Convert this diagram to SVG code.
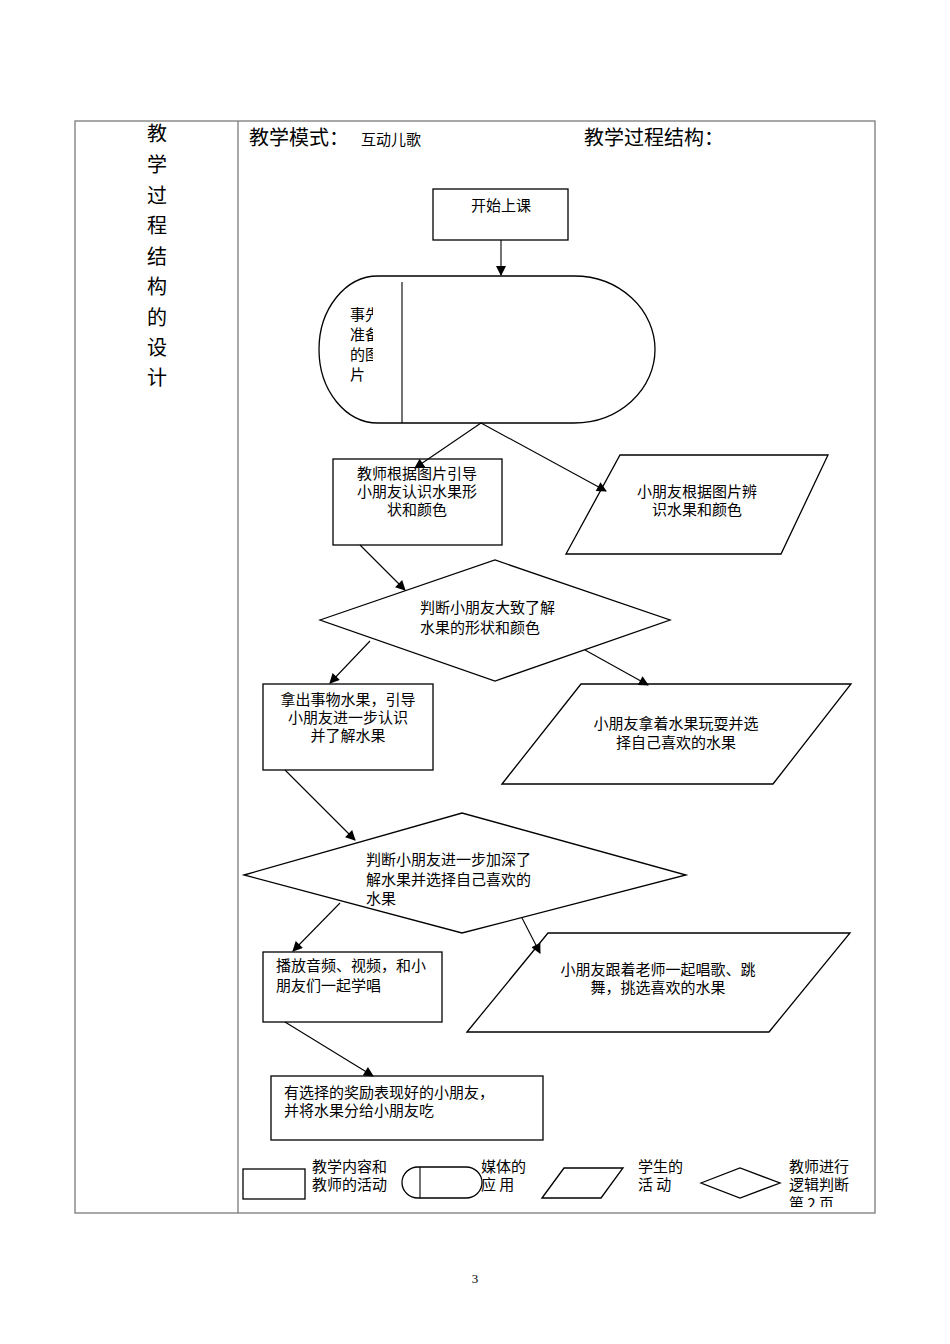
<svg xmlns="http://www.w3.org/2000/svg" width="950" height="1344" viewBox="0 0 950 1344">
<style>
.t{font-family:"Noto Sans CJK SC","Noto Sans CJK JP",sans-serif;font-size:15px;fill:#000}
.c{text-anchor:middle}
.h{font-size:20px}
.s{fill:#fff;stroke:#000;stroke-width:1.3}
.ln{fill:none;stroke:#000;stroke-width:1.1}
.tb{fill:none;stroke:#7a7a7a;stroke-width:1.3}
</style>
<defs>
<marker id="ah" viewBox="0 0 10 10" refX="9" refY="5" markerWidth="11" markerHeight="10" markerUnits="userSpaceOnUse" orient="auto"><path d="M0,0 L10,5 L0,10 z" fill="#000"/></marker>
<clipPath id="mclip"><rect x="340" y="295" width="33" height="100"/></clipPath>
<clipPath id="pclip"><rect x="780" y="1150" width="90" height="57"/></clipPath>
</defs>
<rect width="950" height="1344" fill="#fff"/>
<g id="table">
<rect class="tb" x="75" y="121" width="800" height="1092"/>
<line class="tb" x1="238" y1="121" x2="238" y2="1213"/>
</g>
<g id="sidetitle">
<text class="t h c" x="157" y="141">教</text>
<text class="t h c" x="157" y="172">学</text>
<text class="t h c" x="157" y="203">过</text>
<text class="t h c" x="157" y="233">程</text>
<text class="t h c" x="157" y="264">结</text>
<text class="t h c" x="157" y="294">构</text>
<text class="t h c" x="157" y="325">的</text>
<text class="t h c" x="157" y="355">设</text>
<text class="t h c" x="157" y="385">计</text>
</g>
<g id="header">
<text class="t h" x="249" y="145">教学模式：</text>
<text class="t" x="361" y="145">互动儿歌</text>
<text class="t h" x="584" y="145">教学过程结构：</text>
</g>
<g id="start">
<rect class="s" x="433" y="189" width="135" height="51"/>
<text class="t c" x="501" y="211">开始上课</text>
</g>
<g id="media">
<path class="s" d="M378,276 L574,276 A81,73.5 0 0 1 574,423 L378,423 A59,73.5 0 0 1 378,276 Z"/>
<line class="ln" x1="402" y1="282" x2="402" y2="423"/>
<g clip-path="url(#mclip)">
<text class="t" x="350" y="320" font-size="16">事先</text>
<text class="t" x="350" y="340" font-size="16">准备</text>
<text class="t" x="350" y="360" font-size="16">的图</text>
<text class="t" x="350" y="380" font-size="16">片</text>
</g>
</g>
<g id="teach1">
<rect class="s" x="333" y="459" width="169" height="86"/>
<text class="t c" x="417" y="479">教师根据图片引导</text>
<text class="t c" x="417" y="497">小朋友认识水果形</text>
<text class="t c" x="417" y="515">状和颜色</text>
</g>
<g id="stu1">
<polygon class="s" points="566,554 620,455 828,455 781,554"/>
<text class="t c" x="697" y="497">小朋友根据图片辨</text>
<text class="t c" x="697" y="515">识水果和颜色</text>
</g>
<g id="judge1">
<polygon class="s" points="320,620 495,560 670,620 495,681"/>
<text class="t" x="420" y="613">判断小朋友大致了解</text>
<text class="t" x="420" y="633">水果的形状和颜色</text>
</g>
<g id="teach2">
<rect class="s" x="263" y="684" width="170" height="86"/>
<text class="t c" x="348" y="705">拿出事物水果，引导</text>
<text class="t c" x="348" y="723">小朋友进一步认识</text>
<text class="t c" x="348" y="741">并了解水果</text>
</g>
<g id="stu2">
<polygon class="s" points="502,784 581,684 851,684 773,784"/>
<text class="t c" x="676" y="729">小朋友拿着水果玩耍并选</text>
<text class="t c" x="676" y="748">择自己喜欢的水果</text>
</g>
<g id="judge2">
<polygon class="s" points="244,875 462,813 686,875 462,933"/>
<text class="t" x="366" y="865">判断小朋友进一步加深了</text>
<text class="t" x="366" y="885">解水果并选择自己喜欢的</text>
<text class="t" x="366" y="904">水果</text>
</g>
<g id="teach3">
<rect class="s" x="263" y="952" width="179" height="70"/>
<text class="t" x="276" y="971">播放音频、视频，和小</text>
<text class="t" x="276" y="991">朋友们一起学唱</text>
</g>
<g id="stu3">
<polygon class="s" points="467,1032 548,933 850,933 769,1032"/>
<text class="t c" x="658" y="975">小朋友跟着老师一起唱歌、跳</text>
<text class="t c" x="658" y="993">舞，挑选喜欢的水果</text>
</g>
<g id="teach4">
<rect class="s" x="271" y="1076" width="272" height="64"/>
<text class="t" x="284" y="1098">有选择的奖励表现好的小朋友，</text>
<text class="t" x="284" y="1116">并将水果分给小朋友吃</text>
</g>
<g id="legend">
<rect class="s" x="243" y="1169" width="62" height="30"/>
<text class="t" x="312" y="1172">教学内容和</text>
<text class="t" x="312" y="1190">教师的活动</text>
<path class="s" d="M418,1167 L466,1167 A16,15.5 0 0 1 466,1198 L418,1198 A16,15.5 0 0 1 418,1167 Z"/>
<line class="ln" x1="420" y1="1167" x2="420" y2="1198"/>
<text class="t" x="481" y="1172">媒体的</text>
<text class="t" x="481" y="1190">应 用</text>
<polygon class="s" points="542,1198 564,1168 623,1168 601,1198"/>
<text class="t" x="638" y="1172">学生的</text>
<text class="t" x="638" y="1190">活 动</text>
<polygon class="s" points="701,1183 740,1168 780,1183 740,1198"/>
<text class="t" x="789" y="1172">教师进行</text>
<text class="t" x="789" y="1190">逻辑判断</text>
<g clip-path="url(#pclip)"><text class="t" x="789" y="1209" font-size="13">第  2  页</text></g>
</g>
<g id="connectors">
<line class="ln" x1="501" y1="240" x2="501" y2="275" marker-end="url(#ah)"/>
<line class="ln" x1="481" y1="423" x2="415" y2="468" marker-end="url(#ah)"/>
<line class="ln" x1="481" y1="423" x2="606" y2="491" marker-end="url(#ah)"/>
<line class="ln" x1="360" y1="545" x2="405" y2="590" marker-end="url(#ah)"/>
<line class="ln" x1="370" y1="641" x2="330" y2="683" marker-end="url(#ah)"/>
<line class="ln" x1="585" y1="650" x2="648" y2="685" marker-end="url(#ah)"/>
<line class="ln" x1="285" y1="770" x2="355" y2="840" marker-end="url(#ah)"/>
<line class="ln" x1="340" y1="903" x2="293" y2="951" marker-end="url(#ah)"/>
<line class="ln" x1="522" y1="918" x2="540" y2="953" marker-end="url(#ah)"/>
<line class="ln" x1="285" y1="1022" x2="373" y2="1076" marker-end="url(#ah)"/>
</g>
<g id="pagenum">
<text x="475" y="1283" font-family="Liberation Serif,serif" font-size="13" text-anchor="middle">3</text>
</g>
</svg>
